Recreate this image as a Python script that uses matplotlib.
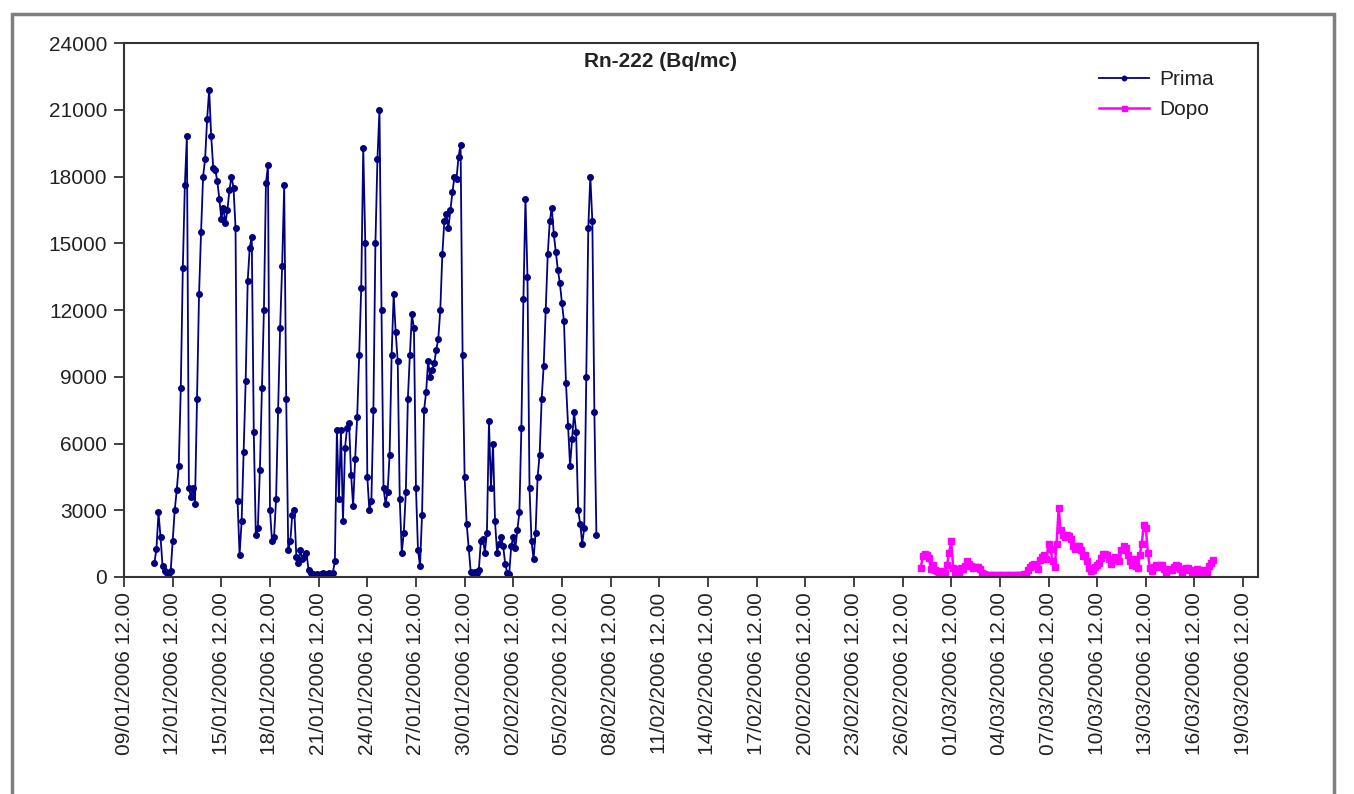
#!/usr/bin/env python
"""
Rn-222 concentration (Bq/mc) before ("Prima") and after ("Dopo") the
remediation, sampled every 3 hours.
"""

import numpy as np
import pandas as pd
import matplotlib
matplotlib.use("Agg")
import matplotlib.pyplot as plt
import matplotlib.dates as mdates
from matplotlib.patches import Rectangle

plt.rcParams['font.family'] = ['Liberation Sans', 'DejaVu Sans']

# Series start times and sampling step
PRIMA_START = "2006-01-11 09:00"
DOPO_START = "2006-02-27 15:00"
STEP = "3h"

# "Prima" values (Bq/mc), one row per day (8 readings)
prima = [
    640, 1280, 2900, 1800, 500, 250, 200, 200,
    250, 1600, 3000, 3900, 5000, 8500, 13900, 17600,
    19800, 4000, 3600, 4000, 3300, 8000, 12700, 15500,
    18000, 18800, 20600, 21900, 19800, 18400, 18300, 17800,
    17000, 16100, 16600, 15900, 16500, 17400, 18000, 17500,
    15700, 3400, 1000, 2500, 5600, 8800, 13300, 14800,
    15300, 6500, 1900, 2200, 4800, 8500, 12000, 17700,
    18500, 3000, 1600, 1800, 3500, 7500, 11200, 14000,
    17600, 8000, 1200, 1600, 2800, 3000, 900, 640,
    1200, 800, 900, 1100, 320, 200, 150, 100,
    150, 100, 150, 200, 100, 150, 200, 150,
    200, 700, 6600, 3500, 6600, 2500, 5800, 6700,
    6900, 4600, 3200, 5300, 7200, 10000, 13000, 19300,
    15000, 4500, 3000, 3400, 7500, 15000, 18800, 21000,
    12000, 4000, 3300, 3800, 5500, 10000, 12700, 11000,
    9700, 3500, 1100, 2000, 3800, 8000, 10000, 11800,
    11200, 4000, 1200, 500, 2800, 7500, 8300, 9700,
    9000, 9300, 9600, 10200, 10700, 12000, 14500, 16000,
    16300, 15700, 16500, 17300, 18000, 17900, 18900, 19400,
    10000, 4500, 2400, 1300, 240, 200, 240, 200,
    300, 1600, 1700, 1100, 2000, 7000, 4000, 6000,
    2500, 1100, 1500, 1800, 1400, 600, 200, 150,
    1400, 1800, 1300, 2100, 2900, 6700, 12500, 17000,
    13500, 4000, 1600, 800, 2000, 4500, 5500, 8000,
    9500, 12000, 14500, 16000, 16600, 15400, 14600, 13800,
    13200, 12300, 11500, 8700, 6800, 5000, 6200, 7400,
    6500, 3000, 2400, 1500, 2200, 9000, 15700, 18000,
    16000, 7400, 1900,
]

# "Dopo" values (Bq/mc), one row per day (8 readings)
dopo = [
    400, 950, 1050, 1000, 850, 350, 550, 300,
    250, 150, 100, 250, 200, 550, 1100, 1600,
    400, 200, 350, 200, 400, 350, 500, 700,
    600, 500, 400, 450, 450, 350, 200, 120,
    100, 80, 70, 80, 70, 60, 70, 80,
    70, 60, 70, 80, 70, 60, 80, 70,
    80, 90, 80, 120, 150, 330, 450, 520,
    600, 500, 350, 750, 900, 1000, 800, 1500,
    1250, 700, 450, 1500, 3100, 2100, 1900, 1800,
    1900, 1850, 1700, 1400, 1250, 1400, 1400, 1200,
    950, 1000, 700, 400, 250, 300, 450, 520,
    650, 850, 1050, 1050, 1000, 800, 600, 750,
    900, 850, 700, 1200, 1400, 1300, 1000, 700,
    550, 800, 500, 400, 1000, 1500, 2350, 2200,
    1100, 400, 250, 450, 520, 450, 520, 530,
    350, 200, 300, 380, 300, 450, 550, 500,
    350, 200, 300, 400, 400, 300, 200, 150,
    350, 230, 120, 300, 230, 200, 500, 650,
    750,
]

# Axis settings
tick_dates = pd.date_range("2006-01-09 12:00", "2006-03-19 12:00", freq="3D")
x_min = pd.Timestamp("2006-01-09 12:00")
x_max = pd.Timestamp("2006-03-20 10:00")
y_ticks = np.arange(0, 24001, 3000)

TEXT_COLOR = '#222222'
FONT_SIZE = 15


def make_chart():
    fig = plt.figure(figsize=(13.54, 7.94), dpi=100)
    ax = fig.add_axes([0.0916, 0.2733, 0.8375, 0.6725])

    # grey frame around the whole chart area
    frame = Rectangle((12 / 1354, -0.02), (1334 - 12) / 1354, 1 - 14 / 794 + 0.02,
                      transform=fig.transFigure, fill=False,
                      edgecolor='#7f7f7f', linewidth=2.5)
    fig.patches.append(frame)

    t_prima = pd.date_range(PRIMA_START, periods=len(prima), freq=STEP)
    t_dopo = pd.date_range(DOPO_START, periods=len(dopo), freq=STEP)

    ax.plot(t_prima, prima, color='#000080', linewidth=1.3,
            marker='o', markersize=4, label='Prima')
    ax.plot(t_dopo, dopo, color='#ff00ff', linewidth=1.8,
            marker='s', markersize=4.5, label='Dopo')

    ax.set_xlim(x_min, x_max)
    ax.set_ylim(0, 24000)
    ax.set_yticks(y_ticks)
    ax.set_xticks(tick_dates)
    ax.xaxis.set_major_formatter(mdates.DateFormatter('%d/%m/%Y %H.%M'))

    for label in ax.get_xticklabels():
        label.set_rotation(90)

    ax.tick_params(axis='both', direction='out', length=7, width=1.3,
                   colors='#333333', labelsize=FONT_SIZE, labelcolor=TEXT_COLOR)
    ax.tick_params(axis='y', pad=5)
    ax.tick_params(axis='x', pad=4)

    for spine in ax.spines.values():
        spine.set_color('#333333')
        spine.set_linewidth(1.5)

    ax.text(0.473, 0.965, 'Rn-222 (Bq/mc)', transform=ax.transAxes,
            ha='center', va='center', fontsize=FONT_SIZE, fontweight='bold',
            color=TEXT_COLOR)

    leg = ax.legend(loc='upper right', bbox_to_anchor=(0.978, 0.985),
                    frameon=False, fontsize=FONT_SIZE, handlelength=2.4,
                    handletextpad=0.5, labelspacing=0.55, markerscale=0.8)
    for text in leg.get_texts():
        text.set_color(TEXT_COLOR)

    return fig, ax


def main():
    fig, ax = make_chart()
    fig.savefig('out.png', dpi=100)


if __name__ == "__main__":
    main()
